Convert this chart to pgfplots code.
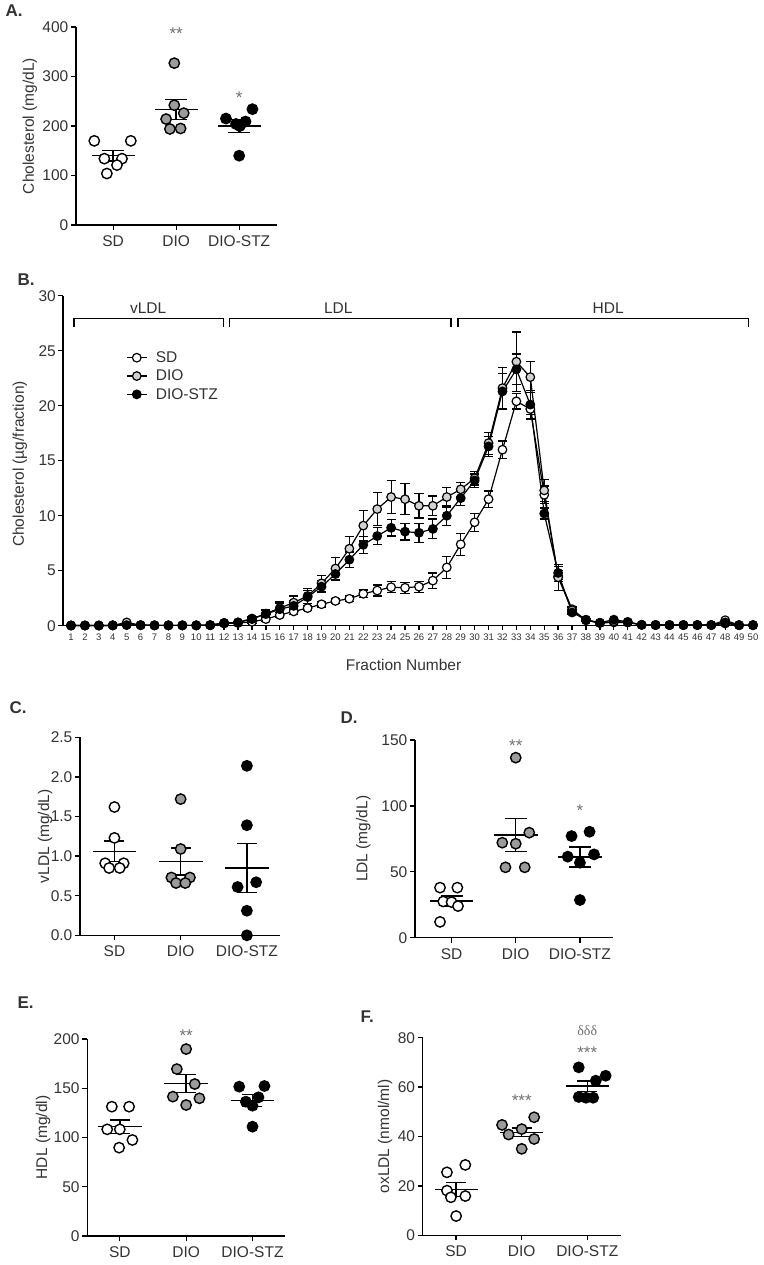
\documentclass[border=0pt]{standalone}
\usepackage{fontspec}
\setmainfont{Liberation Sans}
\newfontfamily\grserif{Liberation Serif}
\usepackage{pgfplots}
\usepackage{pgfplotstable}
\pgfplotsset{compat=1.18}

\definecolor{txt}{HTML}{333333}
\definecolor{gA}{HTML}{9B9B9B}
\definecolor{gB}{HTML}{D2D2D2}
\definecolor{stc}{HTML}{707070}

\newcommand{\fs}[1]{\fontsize{#1}{#1}\selectfont}

\tikzset{sig/.style={font=\fs{17}, text=stc},
  plab/.style={anchor=west, font=\bfseries\fs{17}, text=txt}}

\pgfplotsset{
  gp/.style={
    scale only axis, anchor=south west, clip=false,
    axis x line*=bottom, axis y line*=left,
    axis line style={line width=1.3pt},
    every tick/.style={line width=1.3pt, black},
    tick align=outside, major tick length=5pt,
    /pgf/number format/assume math mode=true,
    tick label style={font=\fs{15.5}, text=txt},
    yticklabel style={inner sep=2.5pt},
    label style={font=\fs{15.5}, text=txt},
    ymin=0,
  },
  cat/.style={gp, xtick={0,1,2}, xticklabels={SD,DIO,DIO-STZ},
    xticklabel style={yshift=-2pt}},
  wpt/.style={only marks, mark=*, mark size=5.2pt,
    mark options={draw=black, fill=white, line width=1.4pt}},
  gpt/.style={only marks, mark=*, mark size=5.2pt,
    mark options={draw=black, fill=gA, line width=1.4pt}},
  bpt/.style={only marks, mark=*, mark size=5.2pt,
    mark options={draw=black, fill=black, line width=1.4pt}},
  mline/.style={black, line width=1.4pt, mark=none},
  sem/.style={black, line width=1.4pt, mark=none, error bars/.cd,
    y dir=both, y explicit,
    error bar style={line width=1.4pt, black},
    error mark options={rotate=90, mark size=#1, line width=1.4pt, black}},
  ser/.style={black, line width=1.2pt, mark=*, mark size=4.3pt,
    mark options={draw=black, fill=#1, line width=1.2pt},
    error bars/.cd, y dir=both, y explicit,
    error bar style={line width=1.2pt, black},
    error mark options={rotate=90, mark size=4.6pt, line width=1.2pt, black}},
}

% fraction profile: mean and SEM per fraction
\pgfplotstableread{
f  sd   sde  dio  dioe stz  stze
1  0.02 0    0.02 0    0.02 0
2  0.02 0    0.02 0    0.02 0
3  0.02 0    0.02 0    0.02 0
4  0.03 0    0.03 0    0.03 0
5  0.15 0    0.30 0    0.05 0
6  0.05 0    0.05 0    0.05 0
7  0.03 0    0.03 0    0.03 0
8  0.03 0    0.03 0    0.03 0
9  0.03 0    0.03 0    0.03 0
10 0.03 0    0.03 0    0.03 0
11 0.05 0    0.05 0    0.05 0
12 0.20 0.05 0.25 0.05 0.25 0.05
13 0.25 0.05 0.30 0.10 0.30 0.10
14 0.35 0.15 0.60 0.20 0.65 0.20
15 0.60 0.20 1.10 0.40 1.05 0.30
16 0.97 0.20 1.60 0.55 1.50 0.50
17 1.30 0.25 2.10 0.60 1.80 0.50
18 1.60 0.25 2.70 0.70 2.60 0.60
19 1.95 0.25 3.85 0.75 3.55 0.55
20 2.25 0.25 5.20 1.00 4.70 0.60
21 2.45 0.25 7.00 1.10 6.00 0.70
22 2.90 0.35 9.10 1.40 7.35 0.75
23 3.20 0.50 10.6 1.50 8.15 0.80
24 3.50 0.50 11.7 1.50 8.90 0.75
25 3.45 0.50 11.5 1.40 8.55 0.75
26 3.55 0.50 10.9 1.10 8.45 0.85
27 4.10 0.70 10.9 0.90 8.80 0.90
28 5.30 1.00 11.7 0.90 10.0 0.90
29 7.40 1.00 12.4 0.65 11.6 0.70
30 9.40 0.80 13.4 0.60 13.2 0.60
31 11.5 0.75 16.6 1.00 16.3 0.90
32 16.0 0.80 21.6 1.90 21.3 1.60
33 20.4 0.70 24.0 2.70 23.3 1.40
34 19.7 0.50 22.6 1.40 20.1 1.30
35 11.9 0.80 12.3 1.00 10.2 0.50
36 4.50 0.50 4.40 1.20 4.80 0.60
37 1.50 0.20 1.40 0.30 1.20 0.20
38 0.50 0.10 0.50 0.10 0.55 0.10
39 0.25 0    0.25 0    0.27 0
40 0.30 0    0.40 0    0.55 0
41 0.30 0    0.30 0    0.35 0
42 0.08 0    0.08 0    0.08 0
43 0.06 0    0.06 0    0.06 0
44 0.06 0    0.06 0    0.06 0
45 0.06 0    0.06 0    0.06 0
46 0.06 0    0.06 0    0.06 0
47 0.06 0    0.06 0    0.06 0
48 0.50 0    0.30 0    0.20 0
49 0.05 0    0.05 0    0.05 0
50 0.05 0    0.05 0    0.05 0
}\tabB

\begin{document}
\begin{tikzpicture}
\useasboundingbox (0,0) rectangle (763pt,-1265pt);

% ---------------- A
\node[plab] at (2pt,-11pt) {A.};
\begin{axis}[cat, at={(76pt,-225pt)}, width=201pt, height=198pt,
  xmin=-0.59, xmax=2.6, ymax=400, ytick={0,100,200,300,400},
  ylabel={Cholesterol (mg/dL)},
  ylabel style={at={(axis description cs:-0.229,0.5)}, anchor=center}]
\addplot[wpt] coordinates {(-0.3,170) (0.28,170) (-0.14,134) (0.14,134) (0.06,121) (-0.1,104)};
\addplot[gpt] coordinates {(0.97,327) (0.97,242) (0.84,214) (1.12,226) (0.9,194) (1.07,195)};
\addplot[bpt] coordinates {(1.79,215) (2.21,234) (1.95,204) (2.1,209) (2.01,200) (2,140)};
\addplot[mline] coordinates {(-0.34,140) (0.34,140)};
\addplot[sem=11pt] coordinates {(0,140) +- (0,11)};
\addplot[mline] coordinates {(0.66,233) (1.34,233)};
\addplot[sem=11pt] coordinates {(1,233) +- (0,20)};
\addplot[mline] coordinates {(1.66,200) (2.34,200)};
\addplot[sem=11pt] coordinates {(2,200) +- (0,13)};
\node[sig] at (axis cs:1,386) {**};
\node[sig] at (axis cs:2,258) {*};
\end{axis}

% ---------------- B
\node[plab] at (14pt,-280pt) {B.};
\begin{axis}[gp, at={(63pt,-625.7pt)}, width=695pt, height=330pt,
  xmin=0.425, xmax=50.36, ymax=30, xtick={1,...,50}, ytick={0,5,10,15,20,25,30},
  major tick length=4.5pt,
  xticklabel style={font=\fs{9.5}},
  xlabel={Fraction Number},
  xlabel style={at={(axis description cs:0.49,-0.118)}, anchor=center},
  ylabel={Cholesterol (µg/fraction)},
  ylabel style={at={(axis description cs:-0.062,0.49)}, anchor=center},
  legend style={draw=none, fill=none, font=\fs{15.5}, text=txt,
    at={(axis description cs:0.0863,0.845)}, anchor=north west,
    nodes={inner sep=2.5pt}, row sep=1pt, column sep=6pt},
  legend cell align=left,
  legend image code/.code={\draw[mark repeat=2,mark phase=2,#1]
    plot coordinates {(0pt,0pt) (10pt,0pt) (20pt,0pt)};}]
\addplot[ser=white] table[x=f, y=sd, y error=sde] {\tabB};
\addlegendentry{SD}
\addplot[ser=gB] table[x=f, y=dio, y error=dioe] {\tabB};
\addlegendentry{DIO}
\addplot[ser=black] table[x=f, y=stz, y error=stze] {\tabB};
\addlegendentry{DIO-STZ}
\draw[line width=1.2pt] (axis cs:1.22,27.2) -- (axis cs:1.22,27.95) -- (axis cs:11.93,27.95) -- (axis cs:11.93,27.2);
\draw[line width=1.2pt] (axis cs:12.36,27.2) -- (axis cs:12.36,27.95) -- (axis cs:28.3,27.95) -- (axis cs:28.3,27.2);
\draw[line width=1.2pt] (axis cs:28.8,27.2) -- (axis cs:28.8,27.95) -- (axis cs:49.7,27.95) -- (axis cs:49.7,27.2);
\node[font=\fs{15.5}, text=txt] at (axis cs:6.54,28.9) {vLDL};
\node[font=\fs{15.5}, text=txt] at (axis cs:20.2,28.9) {LDL};
\node[font=\fs{15.5}, text=txt] at (axis cs:39.6,28.9) {HDL};
\end{axis}

% ---------------- C
\node[plab] at (6pt,-708pt) {C.};
\begin{axis}[cat, at={(80pt,-935.3pt)}, width=200pt, height=198pt,
  xmin=-0.52, xmax=2.5, ymax=2.5, ytick={0,0.5,1,1.5,2,2.5},
  yticklabels={0.0,0.5,1.0,1.5,2.0,2.5},
  ylabel={vLDL (mg/dL)},
  ylabel style={at={(axis description cs:-0.175,0.5)}, anchor=center}]
\addplot[wpt] coordinates {(0,1.62) (0,1.23) (-0.14,0.91) (0.14,0.91) (-0.08,0.85) (0.08,0.85)};
\addplot[gpt] coordinates {(1,1.72) (1,1.09) (0.86,0.73) (1.14,0.73) (0.93,0.66) (1.07,0.66)};
\addplot[bpt] coordinates {(2,2.14) (2,1.39) (1.86,0.61) (2.14,0.67) (2,0.31) (2,0.0)};
\addplot[mline] coordinates {(-0.33,1.06) (0.33,1.06)};
\addplot[sem=10pt] coordinates {(0,1.06) +- (0,0.13)};
\addplot[mline] coordinates {(0.67,0.93) (1.33,0.93)};
\addplot[sem=10pt] coordinates {(1,0.93) +- (0,0.17)};
\addplot[mline] coordinates {(1.67,0.85) (2.33,0.85)};
\addplot[sem=10pt] coordinates {(2,0.85) +- (0,0.31)};
\end{axis}

% ---------------- D
\node[plab] at (337pt,-718pt) {D.};
\begin{axis}[cat, at={(415pt,-937.7pt)}, width=198.3pt, height=197.7pt,
  xmin=-0.57, xmax=2.52, ymax=150, ytick={0,50,100,150},
  ylabel={LDL (mg/dL)},
  ylabel style={at={(axis description cs:-0.26,0.5)}, anchor=center}]
\addplot[wpt] coordinates {(-0.18,38) (0.09,38) (-0.13,27.5) (0,27) (0.1,24) (-0.18,12)};
\addplot[gpt] coordinates {(1,136.6) (1.21,79.7) (0.79,72.1) (1,71.3) (0.84,53.4) (1.14,53.4)};
\addplot[bpt] coordinates {(1.87,77.1) (2.15,80.4) (1.81,61.5) (2.22,63.2) (2,56.9) (2,28.6)};
\addplot[mline] coordinates {(-0.34,27.8) (0.34,27.8)};
\addplot[sem=11pt] coordinates {(0,27.8) +- (0,3.7)};
\addplot[mline] coordinates {(0.66,77.8) (1.34,77.8)};
\addplot[sem=11pt] coordinates {(1,77.8) +- (0,12.6)};
\addplot[mline] coordinates {(1.66,61.3) (2.34,61.3)};
\addplot[sem=11pt] coordinates {(2,61.3) +- (0,7.6)};
\node[sig] at (axis cs:1,146) {**};
\node[sig] at (axis cs:2,96.2) {*};
\end{axis}

% ---------------- E
\node[plab] at (14pt,-1003pt) {E.};
\begin{axis}[cat, at={(87.3pt,-1236pt)}, width=197.7pt, height=197pt,
  xmin=-0.49, xmax=2.49, ymax=200, ytick={0,50,100,150,200},
  ylabel={HDL (mg/dl)},
  ylabel style={at={(axis description cs:-0.223,0.5)}, anchor=center}]
\addplot[wpt] coordinates {(-0.12,131.3) (0.14,131.3) (-0.19,108.3) (0,108.3) (0.19,97.5) (-0.01,89.7)};
\addplot[gpt] coordinates {(1,189.8) (0.86,169.5) (1.13,154.3) (0.8,141.5) (1.2,139.8) (1,133)};
\addplot[bpt] coordinates {(1.8,151.6) (2.18,152.3) (1.9,136.4) (2.09,140.8) (2,132.3) (2,111)};
\addplot[mline] coordinates {(-0.33,111) (0.33,111)};
\addplot[sem=10pt] coordinates {(0,111) +- (0,6.7)};
\addplot[mline] coordinates {(0.67,154.7) (1.33,154.7)};
\addplot[sem=10pt] coordinates {(1,154.7) +- (0,9)};
\addplot[mline] coordinates {(1.67,137.4) (2.33,137.4)};
\addplot[sem=10pt] coordinates {(2,137.4) +- (0,6)};
\node[sig] at (axis cs:1,203) {**};
\end{axis}

% ---------------- F
\node[plab] at (357pt,-1017pt) {F.};
\begin{axis}[cat, at={(422.7pt,-1235.3pt)}, width=198pt, height=197.6pt,
  xmin=-0.51, xmax=2.51, ymax=80, ytick={0,20,40,60,80},
  ylabel={oxLDL (nmol/ml)},
  ylabel style={at={(axis description cs:-0.19,0.5)}, anchor=center}]
\addplot[wpt] coordinates {(-0.14,25.5) (0.14,28.5) (-0.14,18.1) (-0.08,15.4) (0.14,15.9) (0,7.8)};
\addplot[gpt] coordinates {(1.19,47.8) (0.7,44.7) (1,43) (0.8,40.8) (1.19,39) (1,35)};
\addplot[bpt] coordinates {(1.87,68) (2.28,64.6) (2.13,62.6) (1.87,56) (1.98,55.7) (2.09,55.7)};
\addplot[mline] coordinates {(-0.33,18.5) (0.33,18.5)};
\addplot[sem=10pt] coordinates {(0,18.5) +- (0,2.9)};
\addplot[mline] coordinates {(0.67,41.7) (1.33,41.7)};
\addplot[sem=10pt] coordinates {(1,41.7) +- (0,1.8)};
\addplot[mline] coordinates {(1.67,60.4) (2.33,60.4)};
\addplot[sem=10pt] coordinates {(2,60.4) +- (0,2.1)};
\node[sig] at (axis cs:1,54.5) {***};
\node[sig] at (axis cs:2,73.9) {***};
\node[font=\grserif\fs{14}, text=stc] at (axis cs:2,82.9) {δδδ};
\end{axis}
\end{tikzpicture}
\end{document}
